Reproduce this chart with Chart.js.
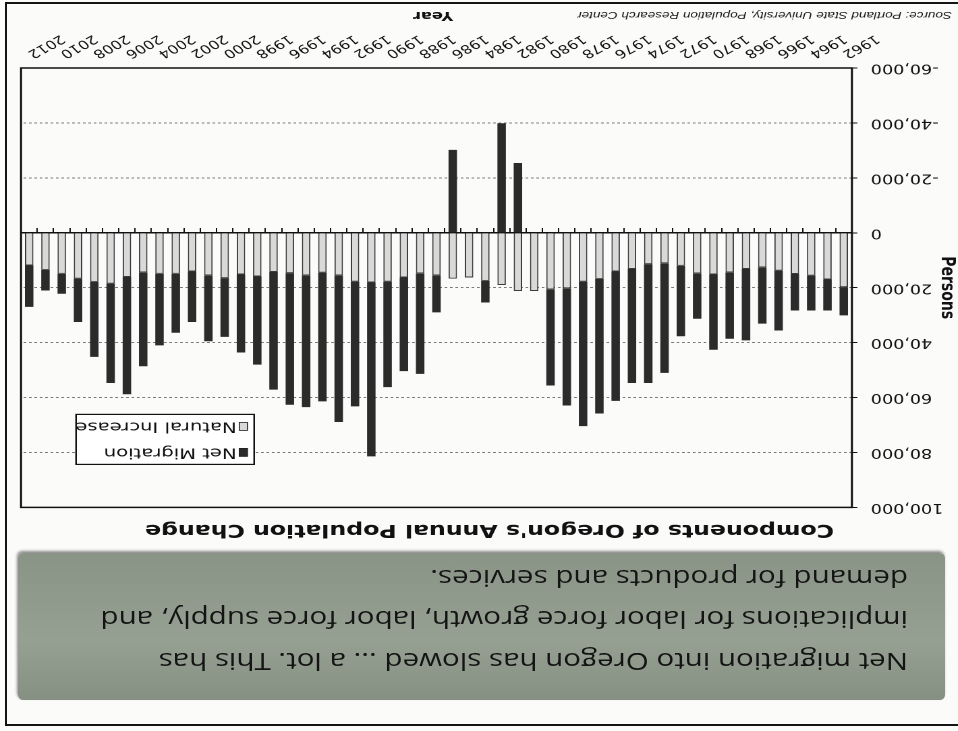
<!DOCTYPE html>
<html>
<head>
<meta charset="utf-8">
<title>Components of Oregon's Annual Population Change</title>
<script src="https://cdn.jsdelivr.net/npm/chart.js@4.4.1/dist/chart.umd.min.js"></script>
<style>
  html, body { margin: 0; padding: 0; background: #fbfbfa; overflow: hidden; }
  #slide { position: relative; width: 958px; height: 731px; background: #fbfbfa; transform: rotate(180deg); overflow: hidden; }
  #frame { position: absolute; left: -2px; top: 5px; width: 955px; height: 724px; border: 2px solid #141414; box-sizing: border-box; }
  #banner { position: absolute; left: 13px; top: 31px; width: 927px; height: 147px; border-radius: 5px;
    background: linear-gradient(180deg, #858f82 0%, #96a092 40%, #8a9486 100%);
    box-shadow: 1px 2px 3px rgba(0,0,0,0.45); }
  #banner .txt { position: absolute; left: 37px; top: 17px; transform-origin: 0 0; transform: scaleX(1.23);
    font-family: "Open Sans", sans-serif; font-size: 24px; line-height: 41.5px; color: #141414; white-space: nowrap; }
  #chartBox { position: absolute; left: 0; top: 182px; width: 710px; height: 548px; transform-origin: 0 0; transform: scaleX(1.3493); }
</style>
</head>
<body>
<div id="slide">
  <div id="frame"></div>
  <div id="banner"><div class="txt">Net migration into Oregon has slowed ... a lot. This has<br>implications for labor force growth, labor force supply, and<br>demand for products and services.</div></div>
  <div id="chartBox"><canvas id="chart" width="710" height="548"></canvas></div>
</div>
<script>
// Years on the category axis
const years = [
  '1962','1963','1964','1965','1966','1967','1968','1969','1970','1971',
  '1972','1973','1974','1975','1976','1977','1978','1979','1980','1981',
  '1982','1983','1984','1985','1986','1987','1988','1989','1990','1991',
  '1992','1993','1994','1995','1996','1997','1998','1999','2000','2001',
  '2002','2003','2004','2005','2006','2007','2008','2009','2010','2011','2012'
];

// Births minus deaths, persons per year
const naturalIncrease = [
  19800, 17000, 15600, 15000, 13800, 12600, 13200, 14400, 15200, 14800,
  12000, 11100, 11400, 13200, 14100, 16800, 17800, 20200, 20600, 21200,
  21200, 19000, 17500, 16300, 16700, 15500, 14800, 16300, 17800, 18100,
  17800, 15500, 14500, 15500, 14700, 14300, 15900, 15200, 16500, 15500,
  14100, 14900, 14900, 14400, 16100, 18500, 17900, 16700, 14900, 13500, 11900
];

// In-migrants minus out-migrants, persons per year
const netMigration = [
  10300, 11300, 12700, 13300, 21800, 20500, 26000, 24200, 27400, 16500,
  25700, 39900, 43300, 41500, 47100, 49000, 52600, 42700, 35000, 0,
  -25400, -39900, 7900, 0, -30200, 13500, 36600, 34100, 38400, 63300,
  45400, 53400, 46900, 48000, 47900, 42800, 32100, 28400, 21400, 24000,
  18400, 21500, 26100, 34200, 42700, 36200, 27300, 15800, 7300, 7500, 15100
];

const yTickValues = [-60000, -40000, -20000, 0, 20000, 40000, 60000, 80000, 100000];
const seriesNames = ['Net Migration', 'Natural Increase'];
const xAxisName = 'Year';
const sourceNote = 'Source: Portland State University, Population Research Center';

const FONT = 'DejaVu Sans';

// Black box around the plotting area
const plotFrame = {
  id: 'plotFrame',
  afterDatasetsDraw(chart) {
    const { ctx, chartArea: a } = chart;
    ctx.save();
    ctx.strokeStyle = '#111';
    ctx.lineWidth = 1.5;
    ctx.strokeRect(a.left, a.top, a.width, a.height);
    ctx.restore();
  }
};

// Boxed legend sitting inside the plot, upper right
const boxedLegend = {
  id: 'boxedLegend',
  afterDraw(chart) {
    const { ctx, chartArea: a } = chart;
    const x = a.left + 443, y = a.top + 43, w = 132, h = 50;
    ctx.save();
    ctx.fillStyle = '#ffffff';
    ctx.fillRect(x, y, w, h);
    ctx.strokeStyle = '#111';
    ctx.lineWidth = 1.2;
    ctx.strokeRect(x, y, w, h);
    ctx.font = '14.5px "' + FONT + '"';
    ctx.textBaseline = 'middle';
    seriesNames.forEach((name, i) => {
      const ds = chart.data.datasets.find(d => d.label === name);
      const cy = y + 12 + i * 26;
      ctx.fillStyle = ds.backgroundColor;
      ctx.fillRect(x + 5, cy - 4, 6, 8);
      ctx.strokeStyle = '#222';
      ctx.lineWidth = 0.8;
      ctx.strokeRect(x + 5, cy - 4, 6, 8);
      ctx.fillStyle = '#111';
      ctx.fillText(ds.label, x + 13, cy);
    });
    ctx.restore();
  }
};

// Axis name under the year labels and the source line in the corner
const footerText = {
  id: 'footerText',
  afterDraw(chart) {
    const { ctx, chartArea: a } = chart;
    ctx.save();
    ctx.fillStyle = '#111';
    ctx.textAlign = 'center';
    ctx.textBaseline = 'middle';
    ctx.font = 'bold 12px "' + FONT + '"';
    ctx.fillText(xAxisName, (a.left + a.right) / 2 + 2.5, 534);
    ctx.textAlign = 'left';
    ctx.textBaseline = 'alphabetic';
    ctx.font = 'italic 10px "Liberation Sans"';
    ctx.fillStyle = '#1a1a1a';
    ctx.fillText(sourceNote, 4.5, 537);
    ctx.restore();
  }
};

new Chart(document.getElementById('chart'), {
  type: 'bar',
  data: {
    labels: years,
    datasets: [
      {
        label: seriesNames[1],
        data: naturalIncrease,
        xAxisID: 'x', yAxisID: 'y',
        backgroundColor: '#d9d9d9',
        borderColor: '#3c3c3c',
        borderWidth: 1,
        stack: 'persons'
      },
      {
        label: seriesNames[0],
        data: netMigration,
        xAxisID: 'x', yAxisID: 'y',
        backgroundColor: '#2b2b2b',
        borderColor: '#2b2b2b',
        borderWidth: 0,
        stack: 'persons'
      }
    ]
  },
  options: {
    responsive: false,
    animation: false,
    devicePixelRatio: 2,
    barPercentage: 0.52,
    categoryPercentage: 1.0,
    layout: { padding: { left: 0, right: 15.6, top: 0, bottom: 0 } },
    plugins: {
      legend: { display: false },
      tooltip: { enabled: false },
      title: {
        display: true,
        text: "Components of Oregon's Annual Population Change",
        color: '#111',
        font: { family: FONT, size: 17.5, weight: 'bold' },
        padding: { top: 9, bottom: 11.6 }
      }
    },
    scales: {
      x: {
        stacked: true,
        grid: { display: false, drawTicks: false },
        border: { display: false },
        ticks: {
          autoSkip: false,
          minRotation: 36,
          maxRotation: 36,
          padding: 7,
          color: '#111',
          font: { family: FONT, size: 12 },
          callback(value, index) { return index % 2 === 0 ? this.getLabelForValue(value) : ''; }
        },
        afterFit(scale) { scale.height = 67; }
      },
      x2: {
        type: 'category',
        axis: 'x',
        position: { y: 0 },
        offset: true,
        grid: { offset: true, drawOnChartArea: false, drawTicks: true, tickLength: 4, color: '#111', lineWidth: 1 },
        border: { display: true, color: '#111', width: 1.5 },
        ticks: { display: false }
      },
      y: {
        stacked: true,
        min: -60000,
        max: 100000,
        afterBuildTicks(scale) { scale.ticks = yTickValues.map(v => ({ value: v })); },
        grid: { color: '#7a7a7a', lineWidth: 1, drawTicks: true, tickLength: 4, tickColor: '#111', tickWidth: 1 },
        border: { display: false, dash: [2, 2] },
        ticks: {
          padding: 10,
          color: '#111',
          font: { family: FONT, size: 13 },
          callback: v => Number(v).toLocaleString('en-US')
        },
        title: {
          display: true,
          text: 'Persons',
          color: '#111',
          font: { family: FONT, size: 14, weight: 'bold' },
          padding: 0
        },
        afterFit(scale) { scale.width = 78.6; }
      }
    }
  },
  plugins: [plotFrame, boxedLegend, footerText]
});
</script>
</body>
</html>
